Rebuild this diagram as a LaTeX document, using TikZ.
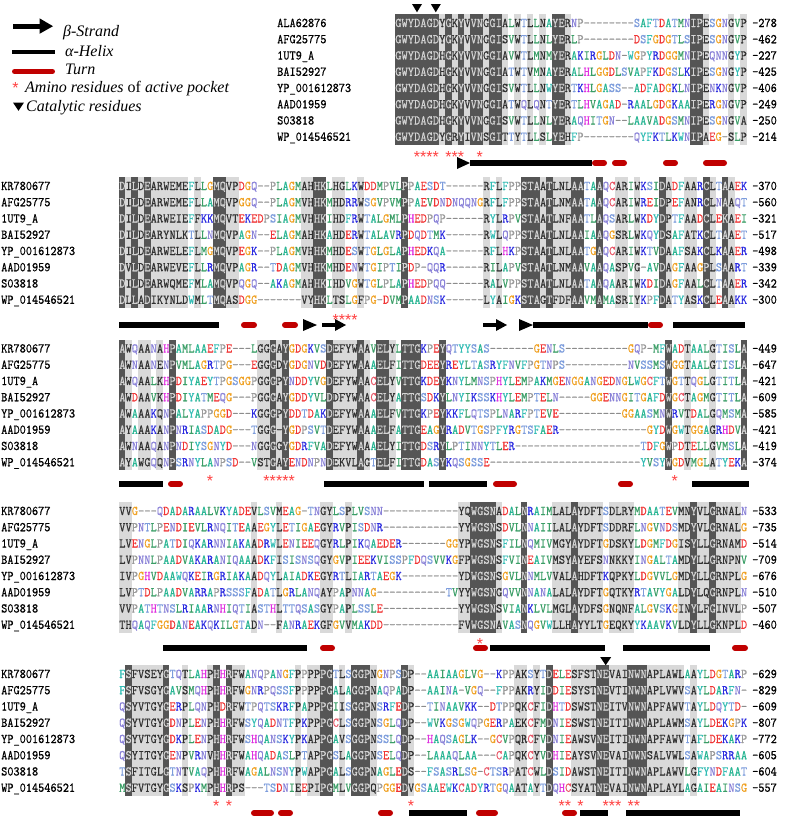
\documentclass[tikz,border=0pt]{standalone}
\usepackage{fontspec}
\setmainfont{Liberation Serif}
\newfontfamily\starfont{Liberation Sans}
\newfontfamily\seqfont[FakeStretch=0.9,FakeBold=0.5]{Latin Modern Mono}
\usetikzlibrary{arrows.meta}

\definecolor{darkbg}{HTML}{555555}
\definecolor{lightbg}{HTML}{D9D9D9}
\definecolor{dktext}{HTML}{D4D4D4}
\definecolor{lttext}{HTML}{303030}
\definecolor{dashc}{HTML}{8C8C8C}
\definecolor{turnred}{HTML}{C00000}
\definecolor{starred}{HTML}{FF4040}
\definecolor{resA}{HTML}{26B592}
\definecolor{resV}{HTML}{3A9E66}
\definecolor{resL}{HTML}{3A9E66}
\definecolor{resI}{HTML}{3A9E66}
\definecolor{resM}{HTML}{3A9E66}
\definecolor{resF}{HTML}{33BDB5}
\definecolor{resW}{HTML}{33BDB5}
\definecolor{resY}{HTML}{33BDB5}
\definecolor{resG}{HTML}{F0A020}
\definecolor{resP}{HTML}{9A9A9A}
\definecolor{resS}{HTML}{7C9CDC}
\definecolor{resT}{HTML}{7C9CDC}
\definecolor{resN}{HTML}{8A82D8}
\definecolor{resQ}{HTML}{8A82D8}
\definecolor{resD}{HTML}{F03333}
\definecolor{resE}{HTML}{F03333}
\definecolor{resK}{HTML}{2A2AE0}
\definecolor{resR}{HTML}{2A2AE0}
\definecolor{resH}{HTML}{E030E0}
\definecolor{resC}{HTML}{E85566}

\makeatletter
\newcount\sq@i
\newdimen\sqcw \sqcw=6.28pt
\def\setshade#1{\global\sq@i=0\relax\@tfor\sq@t:=#1\do{\global\advance\sq@i by 1\relax\expandafter\xdef\csname shd@\the\sq@i\endcsname{\sq@t}}}
\def\seqline#1{\global\sq@i=0\relax\@tfor\sq@c:=#1\do{\global\advance\sq@i by 1\relax\sq@put}}
\def\sq@put{%
  \edef\sq@l{\ifcsname shd@\the\sq@i\endcsname\csname shd@\the\sq@i\endcsname\else0\fi}%
  \ifnum\sq@l=2 \def\sq@col{dktext}%
  \else\ifnum\sq@l=1 \def\sq@col{lttext}%
  \else\if-\sq@c\def\sq@col{dashc}\else\edef\sq@col{res\sq@c}\fi\fi\fi
  \makebox[\sqcw][c]{\color{\sq@col}\sq@c}}
\makeatother

\def\stoff{8.8}
\tikzset{
  mono/.style={font=\seqfont\fontsize{13.3}{14}\selectfont, inner sep=0pt, anchor=base west},
  legtext/.style={font=\fontsize{16}{18}\selectfont, inner sep=0pt, anchor=base west},
  starnode/.style={font=\starfont\fontsize{16}{16}\selectfont, text=starred, inner sep=0pt, anchor=base},
  helixbar/.style={line width=6pt, black},
  turnbar/.style={line width=6pt, turnred, line cap=round},
}

\newcommand\drawshade[1]{%
  \foreach \c in {1,...,#1}{%
    \edef\lv{\csname shd@\c\endcsname}%
    \ifnum\lv=1 \fill[lightbg] ({\bx+(\c-1)*6.28-0.2},{\by-9}) rectangle ++(6.68,130.75);\fi
  }%
  \foreach \c in {1,...,#1}{%
    \edef\lv{\csname shd@\c\endcsname}%
    \ifnum\lv=2 \fill[darkbg] ({\bx+(\c-1)*6.28-0.2},{\by-9}) rectangle ++(6.68,130.75);\fi
  }}
\newcommand\arow[4]{%
  \pgfmathsetmacro\yy{\by+(#1-1)*16.25+4}%
  \node[mono] (n\bn-#1) at (\nx,\yy) {#2};
  \node[mono] (s\bn-#1) at (\bx,\yy) {\seqline{#3}};
  \node[mono] (e\bn-#1) at (752,\yy) {#4};}
\newcommand\stars[2]{%
  \foreach \c in {#2}{\node[starnode] (st\bn-\c) at ({\bx+(\c-0.5)*6.28},{#1+\stoff}) {*};}}
\newcommand\hx[3]{\draw[helixbar] (#1,#3) -- (#2,#3);}
\newcommand\tn[3]{\draw[turnbar] (#1+3,#3) -- (#2-3,#3);}
\newcommand\shead[3]{\fill (#1,#3-6) -- (#2,#3) -- (#1,#3+6) -- cycle;}
\newcommand\sarrow[4]{\draw[line width=4.5pt] (#1,#4) -- (#2+0.5,#4); \fill (#2,#4-6) -- (#3,#4) -- (#2,#4+6) -- cycle;}
\newcommand\catmark[3]{\fill (#1-#3,#2) -- (#1+#3,#2) -- (#1,#2+8.3) -- cycle;}

\begin{document}
\begin{tikzpicture}[x=1pt,y=-1pt]
\useasboundingbox (0,0) rectangle (785,817);
\fill[white] (0,0) rectangle (785,817);

% ---------------- legend ----------------
\draw[line width=5pt] (13,26.7) -- (40.5,26.7);
\fill (39.5,18.3) -- (53,26.2) -- (39.5,33.8) -- cycle;
\node[legtext] (lgA) at (63,36) {\itshape β-Strand};
\draw[line width=4.5pt] (12,52.2) -- (55,52.2);
\node[legtext] (lgB) at (65,56) {\itshape α-Helix};
\draw[line width=5pt, turnred, line cap=round] (14.5,71.5) -- (52.5,71.5);
\node[legtext] (lgC) at (65,74) {\itshape Turn};
\node[starnode] (lgDs) at (15.5,84.5+\stoff) {*};
\node[legtext] (lgD) at (25,92.7) {\itshape Amino residues \upshape of \itshape active pocket};
\catmark{18.5}{102.5}{5.5}
\node[legtext] (lgE) at (26,111.7) {\itshape Catalytic residues};

% ---------------- block 1 ----------------
\def\bn{1}\def\bx{395}\def\by{23}\def\nx{277}
\setshade{2222222%
12121221221%
0101010%
221%
0000000000000000000%
221000101}
\drawshade{56}
\arow{1}{ALA62876}{GWYDAGDYGKYVVNGGIALWTLLNAYERNP--------SAFTDATMNIPESGNGVP}{-278}
\arow{2}{AFG25775}{GWYDAGDYGKYVVNGGISVWTLLNLYERLP--------DSFGDGTLSIPESGNGVP}{-462}
\arow{3}{1UT9\_A}{GWYDAGDHGKYVVNGGIAVWTLMNMYERAKIRGLDN-WGPYRDGGMNIPEQNNGYP}{-227}
\arow{4}{BAI52927}{GWYDAGDHGKYVVNGGIATWTVMNAYERALHLGGDLSVAPFKDGSLKIPESGNGYP}{-425}
\arow{5}{YP\_001612873}{GWYDAGDHGKYVVNGGISVWTLLNWYERTKHLGASS--ADFADGKLNIPENKNGVP}{-406}
\arow{6}{AAD01959}{GWYDAGDHGKYVVNGGIATWQLQNTYERTLHVAGAD-RAALGDGKAAIPERGNGVP}{-249}
\arow{7}{S03818}{GWYDAGDHGKYVVNGGISVWTLLNLYERAQHITGN--LAAVADGSMNIPESGNGVA}{-250}
\arow{8}{WP\_014546521}{GWYDAGDYGRYIVNSGITTYTLLSLYEHFP--------QYFKTLKWNIPAEG-SLP}{-214}
\catmark{417}{4}{5}
\catmark{435.8}{4}{5}
\stars{154}{4,5,6,7,9,10,11,14}
\shead{457}{470}{163}
\hx{470}{592}{163}
\tn{592}{607}{163}
\tn{612}{627}{163}
\tn{663}{678}{163}
\tn{703}{727}{163}

% ---------------- block 2 ----------------
\def\bn{2}\def\bx{119}\def\by{186}\def\nx{1}
\setshade{21212%
111111%
0100%
2211%
0000000000%
1122%
011001%
000000%
2%
000000000000%
101000%
22212111%
2200%
2001101%
000%
2100110%
2102100}
\drawshade{100}
\arow{1}{KR780677}{DILDEARWEMEFLLGMQVPDGQ--PLAGMAHHKLHGLKWDDMPVLPPAESDT------RFLFPPSTAATLNLAATAAQCARIWKSIDADFAARCLTAAEK}{-370}
\arow{2}{AFG25775}{DILDEARWEMEFLLAMQVPGGQ--PLAGMVHHKMHDRRWSGVPVMPPAEVDNDNQQNGRFLFPPSTAATLNMAATAAQCARIWREIDPEFANRCLNAAQT}{-560}
\arow{3}{1UT9\_A}{DILDEARWEIEFFKKMQVTEKEDPSIAGMVHHKIHDFRWTALGMLPHEDPQP------RYLRPVSTAATLNFAATLAQSARLWKDYDPTFAADCLEKAEI}{-321}
\arow{4}{BAI52927}{DILDEARYNLKTLLNMQVPAGN--ELAGMAHHKAHDERWTALAVRPDQDTMK------RWLQPPSTAATLNLAAIAAQGSRLWKQYDSAFATKCLTAAET}{-517}
\arow{5}{YP\_001612873}{DILDEARWELEFLMGMQVPEGK--PLAGMVHHKMHDESWTGLGLAPHEDKQA------RFLHKPSTAATLNLAATGAQCARIWKTVDAAFSAKCLKAAER}{-498}
\arow{6}{AAD01959}{DVLDEARWEVEFLLRMQVPAGR--TDAGMVHHKMHDENWTGIPTIPDP-QQR------RILAPVSTAATLNMAAVAAQASPVG-AVDAGFAAGPLSAART}{-339}
\arow{7}{S03818}{DILDEARWQMEFMLAMQVPQGQ--AKAGMAHHKIHDVGWTGLPLAPHEDPQQ------RALVPPSTAATLNLAATAAQAARIWKDIDAGFAALCLTAAER}{-342}
\arow{8}{WP\_014546521}{DLLADIKYNLDWMLTMQASDGG-------VYHKLTSLGFPG-DVMPAADNSK------LYAIGKSTAGTFDFAAVMAMASRIYKPFDATYASKCLEAAKK}{-300}
\stars{317}{35,36,37,38}
\hx{119}{219}{325}
\tn{241}{257}{325}
\tn{282}{298}{325}
\shead{303}{317}{325}
\sarrow{322}{335}{346}{325}
\sarrow{483}{496}{507}{325}
\shead{519}{533}{325}
\hx{533}{648}{325}
\tn{648}{663}{325}
\hx{673}{745}{325}

% ---------------- block 3 ----------------
\def\bn{3}\def\bx{119}\def\by{348.5}\def\nx{1}
\setshade{21011010%
2%
0000000000000%
11212%
000000%
211112102210%
2220002%
00000000000000000000000000000000000%
2001000100002}
\drawshade{100}
\arow{1}{KR780677}{AWQAANAHPAMLAAEFPE---LGGGAYGDGKVSDEFYWAAVELYLTTGKPEYQTYYSAS-------GENLS----------GQP-MFWADTAALGTISLA}{-449}
\arow{2}{AFG25775}{AWNAANENPVMLAGRTPG---EGGGDYGDGNVDDEFYWAAAELFITTGDEEYREYLTASRYFNVFPGTNPS----------NVSSMSWGGTAALGTISLA}{-647}
\arow{3}{1UT9\_A}{AWQAALKHPDIYAEYTPGSGGPGGGPYNDDYVGDEFYWAACELYVTTGKDEYKNYLMNSPHYLEMPAKMGENGGANGEDNGLWGCFTWGTTQGLGTITLA}{-421}
\arow{4}{BAI52927}{AWDAAVKHPDIYATMEQG---PGGGAYGDDYVLDDFYWAACELYATTGSDKYLNYIKSSKHYLEMPTELN-----GGENNGITGAFDWGCTAGMGTITLA}{-609}
\arow{5}{YP\_001612873}{AWAAAKQNPALYAPPGGD---KGGGPYDDTDAKDEFYWAAAELFVTTGKPEYKKFLQTSPLNARFPTEVE----------GGAASMNWRVTDALGQMSMA}{-585}
\arow{6}{AAD01959}{AYAAAKANPNRIASDADG---TGGG-YGDPSVTDEFYWAAAELFATTGEAGYRADVTGSPFYRGTSFAER--------------GYDWGWTGGAGRHDVA}{-421}
\arow{7}{S03818}{AWNAAQANPNDIYSGNYD---NGGGGYGDRFVADEFYWAAAELYITTGDSRYLPTINNYTLER--------------------TDFGWPDTELLGVMSLA}{-419}
\arow{8}{WP\_014546521}{AYAWGQQNPSRNYLANPSD--VSTGAYENDNPNDEKVLAGTELFITTGDASYKQSGSSE------------------------YVSYWGDVMGLATYEKA}{-374}
\stars{478}{15,24,25,26,27,28,89}
\hx{119}{163}{484}
\tn{168}{183}{484}
\hx{324}{424}{484}
\hx{429}{487}{484}
\tn{493}{517}{484}
\tn{618}{633}{484}
\hx{692}{749}{484}

% ---------------- block 4 ----------------
\def\bn{4}\def\bx{119}\def\by{511}\def\nx{1}
\setshade{11%
0000000000000000000%
1%
000%
1%
000000%
11001%
00000000000000000%
1122221%
000%
2%
0000%
1112%
1111%
0%
1111%
0000000%
11211211110}
\drawshade{100}
\arow{1}{KR780677}{VVG---QDADARAALVKYADEVLSVMEAG-TNGYLSPLVSNN------------YQWGSNADALNRAIMLALAYDFTSDLRYMDAATEVMNYVLGRNALN}{-533}
\arow{2}{AFG25775}{VVPNTLPENDIEVLRNQITEAAEGYLETIGAEGYRVPISDNR------------YYWGSNSDVLNNAIILALAYDFTSDDRFLNGVNDSMDYVLGRNALG}{-735}
\arow{3}{1UT9\_A}{LVENGLPATDIQKARNNIAKAADRWLENIEEQGYRLPIKQAEDER-------GGYPWGSNSFILNQMIVMGYAYDFTGDSKYLDGMFDGISYLLGRNAMD}{-514}
\arow{4}{BAI52927}{LVPNNLPAADVAKARANIQAAADKFISISNSQGYGVPIEEKVISSPFDQSVVKGFPWGSNSFVINEAIVMSYAYEFSNNKKYINGALTAMDYLLGRNPNV}{-709}
\arow{5}{YP\_001612873}{IVPGHVDAAWQKEIRGRIAKAADQYLAIADKEGYRTLIARTAEGK---------YDWGSNSGVLNNMLVVALAHDFTKQPKYLDGVVLGMDYLLGRNPLG}{-676}
\arow{6}{AAD01959}{LVPTDLPAADVARRAPRSSSFADATLGRLANQAYPAPNNAG-----------TVYYWGSNGQVVNNANALALAYDFTGQTKYRTAVYGALDYLQGRNPLN}{-510}
\arow{7}{S03818}{VVPATHTNSLRIAARNHIQTIASTHLTTQSASGYPAPLSSLE------------YYWGSNSVIANKLVLMGLAYDFSGNQNFALGVSKGINYLFGINVLP}{-507}
\arow{8}{WP\_014546521}{THQAQFGGDANEAKQKILGTADN--FANRAEKGFGVVMAKDD------------FVWGSNAVASNQGVWLLHAYYLTGEQKYYKAAVKVLDYLLGKNPLD}{-460}
\stars{641}{58}
\hx{163}{307}{648}
\tn{320}{335}{648}
\tn{473}{488}{648}
\hx{490}{605}{648}
\hx{623}{710}{648}
\tn{732}{748}{648}

% ---------------- block 5 ----------------
\def\bn{5}\def\bx{119}\def\by{674}\def\nx{1}
\setshade{0211111200%
1000120211%
00000000%
1011%
220102221%
0000%
21%
0000000000000000%
110102%
000%
111122111222%
11111101%
00000000}
\drawshade{100}
\arow{1}{KR780677}{FSFVSEYGTQTLAHPHHRFWANQPANGFPPPPPGTLSGGPNGNPSDP--AAIAAGLVG--KPPAKSYTDELESFSTNEVAINWNAPLAWLAAYLDGTARP}{-629}
\arow{2}{AFG25775}{FSFVSGYGAVSMQHPHHRFWGNRPQSSFPPPPPGALAGGPNAQPADP--AAINA-VGQ--FPPAKRYIDDIESYSTNEVTINWNAPLVWVSAYLDARFN-}{-829}
\arow{3}{1UT9\_A}{QSYVTGYGERPLQNPHDRFWTPQTSKRFPAPPPGIISGGPNSRFEDP--TINAAVKK--DTPPQKCFIDHTDSWSTNEITVNWNAPFAWVTAYLDQYTD-}{-609}
\arow{4}{BAI52927}{QSYVTGYGDNPLENPHHRFWSYQADNTFPKPPPGCLSGGPNSGLQDP--WVKGSGWQPGERPAEKCFMDNIESWSTNEITINWNAPLAWMSAYLDEKGPK}{-807}
\arow{5}{YP\_001612873}{QSYVTGYGDKPLENPHHRFWSHQANSKYPKAPPGAVSGGPNSSLQDP--HAQSAGLK--GCVPQRCFVDNIEAWSVNEITINWNAPFAWVTAFLDEKAKP}{-772}
\arow{6}{AAD01959}{QSYITGYGENPVRNVHHRFWAHQADASLPTAPPGSLAGGPNSELQDP--LAAAQLAA---CAPQKCYVDHIEAYSVNEVAINWNSALVWLSAWAPSRRAA}{-605}
\arow{7}{S03818}{TSFITGLGTNTVAQPHHRFWAGALNSNYPWAPPGALSGGPNAGLEDS--FSASRLSG-CTSRPATCWLDSIDAWSTNEITINWNAPLAWVLGFYNDFAAT}{-604}
\arow{8}{WP\_014546521}{MSFVTGYGSKSPKMPHHRPS---TSDNIEEPIPGMLVGGPQPGGEDVGSAAEWKCADYRTGQAATAYTDQHCSYATNEVAINWNAPLAYLAGAIEAINSG}{-557}
\catmark{605.7}{657}{5.5}
\stars{803}{16,18,47,71,72,74,78,79,80,82,83}
\tn{251}{274}{813}
\tn{278}{293}{813}
\tn{378}{393}{813}
\hx{409}{467}{813}
\tn{476}{498}{813}
\tn{562}{577}{813}
\hx{580}{608}{813}
\hx{626}{740}{813}
\end{tikzpicture}
\end{document}
